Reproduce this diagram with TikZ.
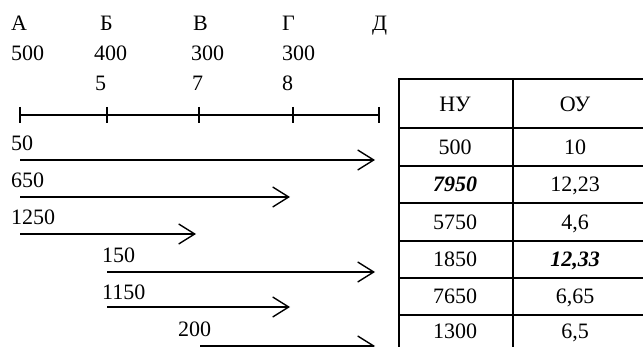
\documentclass[tikz,border=0pt]{standalone}
\usepackage{fontspec}
\setmainfont{Liberation Serif}
\usetikzlibrary{arrows.meta}
\begin{document}
\begin{tikzpicture}[x=1pt,y=-1pt,
  lbl/.style={anchor=base west,inner sep=0pt,font=\fontsize{22}{26}\selectfont},
  cell/.style={anchor=base,inner sep=0pt,font=\fontsize{22}{26}\selectfont},
  bcell/.style={cell,font=\fontsize{22}{26}\selectfont\bfseries\itshape},
  rule/.style={line width=1.6pt},
  tbl/.style={line width=1.6pt},
  arr/.style={line width=1.6pt,-{Straight Barb[length=16pt,width=20pt,line width=1.4pt]}}
]
\useasboundingbox (0,0) rectangle (643,347);

% top labels
\node[lbl] (lA) at (11,31) {А};
\node[lbl] (lB) at (100,31) {Б};
\node[lbl] (lV) at (193,31) {В};
\node[lbl] (lG) at (282,31) {Г};
\node[lbl] (lD) at (372,31) {Д};
\node[lbl] (nA) at (11,61) {500};
\node[lbl] (nB) at (94,61) {400};
\node[lbl] (nV) at (191,61) {300};
\node[lbl] (nG) at (282,61) {300};
\node[lbl] (mB) at (95,91) {5};
\node[lbl] (mV) at (192,91) {7};
\node[lbl] (mG) at (282,91) {8};

% ruler
\coordinate (tA) at (20,115);
\coordinate (tB) at (107,115);
\coordinate (tV) at (199,115);
\coordinate (tG) at (293,115);
\coordinate (tD) at (379,115);
\draw[rule] (tA) -- (tD);
\foreach \t in {tA,tB,tV,tG,tD}
  \draw[rule] ([yshift=8pt]\t) -- ([yshift=-8pt]\t);

% arrows
\coordinate (s1) at (20,160);  \coordinate (e1) at (375,160);
\coordinate (s2) at (20,197);  \coordinate (e2) at (290,197);
\coordinate (s3) at (20,234);  \coordinate (e3) at (196,234);
\coordinate (s4) at (107,272); \coordinate (e4) at (375,272);
\coordinate (s5) at (107,307); \coordinate (e5) at (290,307);
\coordinate (s6) at (200,346); \coordinate (e6) at (375,346);
\draw[arr] (s1) -- (e1);
\draw[arr] (s2) -- (e2);
\draw[arr] (s3) -- (e3);
\draw[arr] (s4) -- (e4);
\draw[arr] (s5) -- (e5);
\draw[arr] (s6) -- (e6);
\node[lbl] (w1) at (11,151) {50};
\node[lbl] (w2) at (11,188) {650};
\node[lbl] (w3) at (11,225) {1250};
\node[lbl] (w4) at (102,263) {150};
\node[lbl] (w5) at (102,300) {1150};
\node[lbl] (w6) at (178,337) {200};

% table
\draw[tbl] (643,79) -- (399,79) -- (399,347);
\draw[tbl] (513,79) -- (513,347);
\foreach \y in {128,166,203,241,278,315}
  \draw[tbl] (399,\y) -- (643,\y);

\node[cell] (h1) at (455,112) {НУ};
\node[cell] (h2) at (575,112) {ОУ};
\node[cell] (r1a) at (455,154.5) {500};
\node[cell] (r1b) at (575,154.5) {10};
\node[bcell] (r2a) at (455,192) {7950};
\node[cell] (r2b) at (575,192) {12,23};
\node[cell] (r3a) at (455,229.5) {5750};
\node[cell] (r3b) at (575,229.5) {4,6};
\node[cell] (r4a) at (455,267) {1850};
\node[bcell] (r4b) at (575,267) {12,33};
\node[cell] (r5a) at (455,304) {7650};
\node[cell] (r5b) at (575,304) {6,65};
\node[cell] (r6a) at (455,338.5) {1300};
\node[cell] (r6b) at (575,338.5) {6,5};
\end{tikzpicture}
\end{document}
